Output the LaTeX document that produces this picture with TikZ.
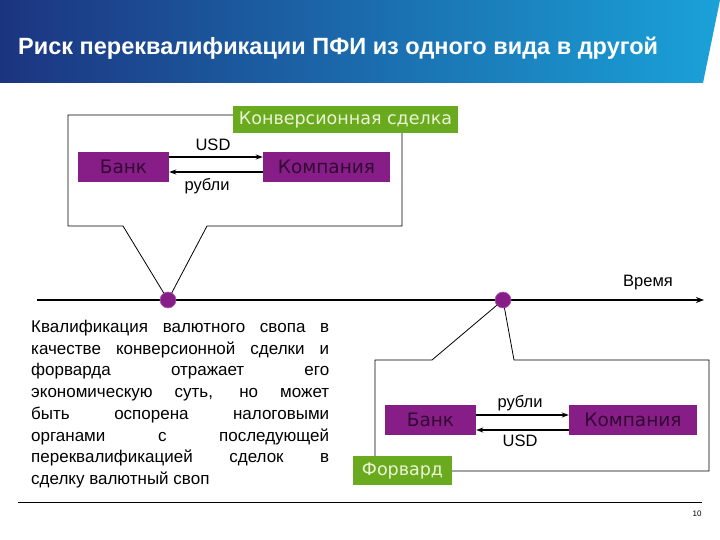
\documentclass[tikz,border=0pt]{standalone}
\usepackage{fontspec}
\setmainfont{Liberation Sans}
\newfontfamily\boxfont{DejaVu Sans}
\usetikzlibrary{arrows.meta}
\definecolor{navyb}{RGB}{28,52,128}
\definecolor{cyanb}{RGB}{26,162,216}
\definecolor{pfgreen}{RGB}{106,170,30}
\definecolor{pfgreentext}{RGB}{236,244,214}
\definecolor{pfpurple}{RGB}{135,30,135}
\definecolor{pftext}{RGB}{50,8,50}
\tikzset{
  pbox/.style={fill=pfpurple, text=pftext, inner sep=0pt, minimum height=30pt,
    font=\boxfont\fontsize{18.5}{20}\selectfont},
  gbox/.style={fill=pfgreen, text=pfgreentext, inner sep=0pt,
    font=\boxfont\fontsize{17.5}{19}\selectfont},
  callout/.style={draw=black, line width=0.8pt, fill=white},
  arr/.style={line width=1.4pt, -{Stealth[length=7pt,width=5pt]}},
  lbl/.style={inner sep=0pt, font=\fontsize{16.5}{18}\selectfont},
  dot/.style={circle, fill=pfpurple, draw=pfpurple!70!white, line width=0.6pt, minimum size=16pt, inner sep=0pt}
}
\begin{document}
\begin{tikzpicture}[x=1pt,y=-1pt]
\useasboundingbox (0,0) rectangle (720,540);
% title bar
\shade[left color=navyb, right color=cyanb] (0,0) -- (720,0) -- (703,83) -- (0,83) -- cycle;
\node[anchor=west, text=white, inner sep=0pt, font=\bfseries\fontsize{23.5}{27}\selectfont] (title) at (18,48) {Риск переквалификации ПФИ из одного вида в другой};
% timeline
\coordinate (tl0) at (37,300);
\coordinate (tl1) at (704,300);
\draw[line width=1.6pt, -{Stealth[length=8pt,width=6pt]}] (tl0) -- (tl1);
\node[lbl] (time) at (648,283) {Время};
% top callout
\coordinate (p1) at (168,300);
\draw[callout] (68,115) -- (402,115) -- (402,226) -- (207,226) -- (p1) -- (123,226) -- (68,226) -- cycle;
\node[gbox, minimum width=225pt, minimum height=27pt] (g1) at (345.5,119.5) {Конверсионная сделка};
\node[pbox, minimum width=91pt] (bank1) at (123.5,167) {Банк};
\node[pbox, minimum width=127pt] (comp1) at (326.5,167) {Компания};
\draw[arr] ([yshift=10pt]bank1.east) -- ([yshift=10pt]comp1.west);
\draw[arr] ([yshift=-5pt]comp1.west) -- ([yshift=-5pt]bank1.east);
\node[lbl] (usd1) at (213,145) {USD};
\node[lbl] (rub1) at (207,186) {рубли};
\node[dot] (d1) at (p1) {};
% bottom callout
\coordinate (p2) at (503,300);
\draw[callout] (375,360) -- (432,360) -- (p2) -- (514,360) -- (709,360) -- (709,471) -- (375,471) -- cycle;
\node[dot] (d2) at (p2) {};
\node[pbox, minimum width=91pt] (bank2) at (430.5,420) {Банк};
\node[pbox, minimum width=128pt] (comp2) at (633,420) {Компания};
\draw[arr] ([yshift=5pt]bank2.east) -- ([yshift=5pt]comp2.west);
\draw[arr] ([yshift=-10pt]comp2.west) -- ([yshift=-10pt]bank2.east);
\node[lbl] (rub2) at (520,403) {рубли};
\node[lbl] (usd2) at (520,441) {USD};
\node[gbox, minimum width=99pt, minimum height=29pt] (g2) at (402.5,470.5) {Форвард};
% paragraph
\node[anchor=north west, text width=298pt, inner sep=0pt, align=justify,
  font=\fontsize{17}{21.7}\selectfont] (para) at (31,320)
  {Квалификация валютного свопа в\linebreak
   качестве конверсионной сделки и\linebreak
   форварда отражает его\linebreak
   экономическую суть, но может\linebreak
   быть оспорена налоговыми\linebreak
   органами с последующей\linebreak
   переквалификацией сделок в\linebreak
   сделку валютный своп};
% footer
\coordinate (f0) at (18,502);
\coordinate (f1) at (702,502);
\draw[line width=1pt] (f0) -- (f1);
\node[inner sep=0pt, font=\fontsize{8}{9}\selectfont] (pg) at (697,514) {10};
\end{tikzpicture}
\end{document}
